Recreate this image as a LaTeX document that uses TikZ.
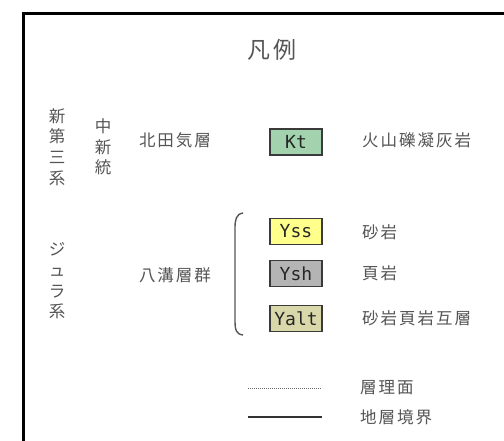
\documentclass[tikz,border=0pt]{standalone}
\usepackage{fontspec}
\newfontfamily\jp{Noto Sans CJK JP}
\newfontfamily\jpsp[LetterSpace=12]{Noto Sans CJK JP}
\newfontfamily\mono{DejaVu Sans Mono}
\definecolor{txt}{HTML}{555555}
\definecolor{boxline}{HTML}{3A3A3A}
\definecolor{ktfill}{HTML}{A2D3AE}
\definecolor{yssfill}{HTML}{FFFF8C}
\definecolor{yshfill}{HTML}{B4B4B4}
\definecolor{yaltfill}{HTML}{D8D8AA}
\begin{document}
\begin{tikzpicture}[x=1pt,y=-1pt,
  jtext/.style={text=txt,inner sep=0pt,font=\jpsp\fontsize{16.5}{20}\selectfont},
  vtext/.style={text=txt,inner sep=0pt,align=center,font=\jp\fontsize{16.5}{20.7}\selectfont},
  unitbox/.style={draw=boxline,line width=1.8pt,minimum width=52pt,minimum height=26pt,inner sep=0pt,text=black!85,font=\mono\fontsize{18}{20}\selectfont},
  legline/.style={line width=2pt,color=black!80}]
\useasboundingbox (0,0) rectangle (504,440);
\fill[white] (0,0) rectangle (504,440);
% frame
\coordinate (fbl) at (23,442);
\coordinate (ftl) at (23,13.5);
\coordinate (ftr) at (506,13.5);
\draw[line width=3pt,black] (fbl) -- (ftl) -- (ftr);
% title
\node[text=txt,inner sep=0pt,font=\jpsp\fontsize{23}{26}\selectfont] (title) at (272,50) {凡例};
% vertical labels
\node[vtext] (neogene) at (57,147) {新\\第\\三\\系};
\node[vtext] (miocene) at (103,147) {中\\新\\統};
\node[vtext] (jurassic) at (57,281) {ジ\\ュ\\ラ\\系};
% formation names
\node[jtext] (kitada) at (175,140) {北田気層};
\node[jtext] (yamizo) at (175,275) {八溝層群};
% unit boxes
\node[unitbox,fill=ktfill] (kt) at (296,142) {Kt};
\node[unitbox,fill=yssfill] (yss) at (296,231.5) {Yss};
\node[unitbox,fill=yshfill] (ysh) at (296,273.5) {Ysh};
\node[unitbox,fill=yaltfill] (yalt) at (296,318.5) {Yalt};
% descriptions
\node[jtext,anchor=west] (dkt) at (362,140) {火山礫凝灰岩};
\node[jtext,anchor=west] (dyss) at (362,232) {砂岩};
\node[jtext,anchor=west] (dysh) at (362,273) {頁岩};
\node[jtext,anchor=west] (dyalt) at (362,318) {砂岩頁岩互層};
% bracket
\coordinate (bt) at (243,213);
\coordinate (bb) at (243,335);
\draw[line width=1.4pt,color=txt] (bt) .. controls (236,214) and (235,220) .. (235,228) -- (235,320) .. controls (235,330) and (236,334) .. (bb);
% line legend
\coordinate (d1) at (248,388);
\coordinate (d2) at (322,388);
\coordinate (s1) at (248,417);
\coordinate (s2) at (322,417);
\draw[line width=0.8pt,color=black!60,dash pattern=on 1pt off 1pt] (d1) -- (d2);
\draw[legline] (s1) -- (s2);
\node[jtext,anchor=west] (bedding) at (360,388) {層理面};
\node[jtext,anchor=west] (boundary) at (360,417) {地層境界};
\end{tikzpicture}
\end{document}
